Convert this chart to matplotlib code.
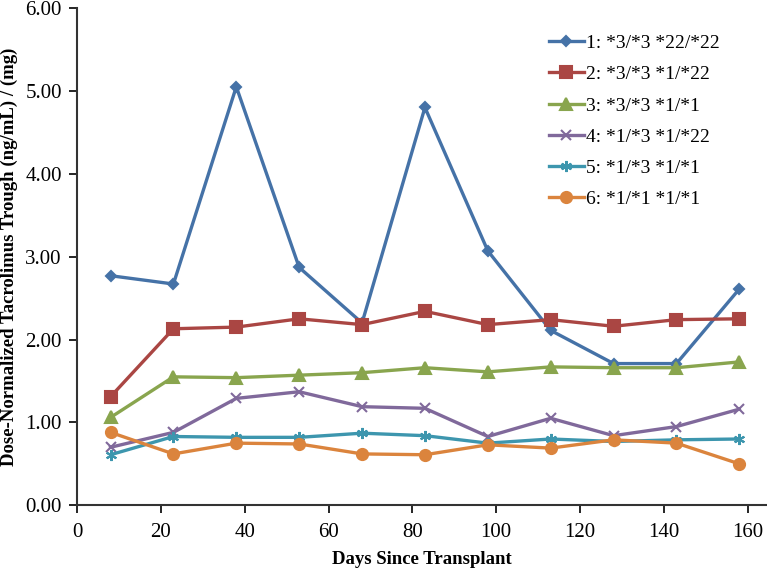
import matplotlib.pyplot as plt
from matplotlib.ticker import FormatStrFormatter

plt.rcParams['font.family'] = ['Liberation Serif', 'DejaVu Serif']

days = [8, 23, 38, 53, 68, 83, 98, 113, 128, 143, 158]
labels = ['1: *3/*3 *22/*22', '2: *3/*3 *1/*22', '3: *3/*3 *1/*1',
          '4: *1/*3 *1/*22', '5: *1/*3 *1/*1', '6: *1/*1 *1/*1']

g1 = [2.77, 2.67, 5.05, 2.87, 2.20, 4.80, 3.07, 2.11, 1.71, 1.71, 2.61]
g2 = [1.31, 2.13, 2.15, 2.25, 2.18, 2.34, 2.18, 2.24, 2.16, 2.24, 2.25]
g3 = [1.06, 1.55, 1.54, 1.57, 1.60, 1.66, 1.61, 1.67, 1.66, 1.66, 1.73]
g4 = [0.70, 0.88, 1.29, 1.37, 1.19, 1.17, 0.83, 1.05, 0.84, 0.95, 1.16]
g5 = [0.61, 0.83, 0.82, 0.82, 0.87, 0.84, 0.75, 0.80, 0.77, 0.79, 0.80]
g6 = [0.88, 0.62, 0.75, 0.74, 0.62, 0.61, 0.73, 0.69, 0.79, 0.75, 0.50]

colors = ['#4572A7', '#AA4643', '#89A54E', '#80699B', '#3D96AE', '#DB843D']
markers = ['D', 's', '^', 'x', (6, 2, 0), 'o']
msizes = [5, 8, 8, 7, 8, 8]

fig = plt.figure(figsize=(7.67, 5.68), dpi=100)
ax = fig.add_axes([77 / 767, 1 - 505.3 / 568, 1 - 77 / 767, 497.3 / 568])

for ys, lab, c, m, ms in zip([g1, g2, g3, g4, g5, g6], labels, colors, markers, msizes):
    ax.plot(days, ys, color=c, marker=m, markersize=ms, linewidth=2.4,
            markeredgewidth=1.5, label=lab)

ax.set_xlim(0, 164.6)
ax.set_ylim(0, 6)
ax.set_xticks(range(0, 161, 20))
ax.set_yticks(range(0, 7))
ax.yaxis.set_major_formatter(FormatStrFormatter('%.2f'))
ax.tick_params(labelsize=15, direction='out', length=6, width=1.2)
ax.tick_params(axis='x', pad=7)
ax.tick_params(axis='y', pad=5)
ax.spines['top'].set_visible(False)
ax.spines['right'].set_visible(False)
for s in ['left', 'bottom']:
    ax.spines[s].set_linewidth(1.5)
    ax.spines[s].set_color('#333333')

ax.set_xlabel('Days Since Transplant', fontsize=13.5, fontweight='bold', labelpad=6)
ax.set_ylabel('Dose-Normalized Tacrolimus Trough (ng/mL) / (mg)', fontsize=13.5,
              fontweight='bold')
ax.yaxis.set_label_coords(-0.085, 0.5)

ax.legend(loc='upper left', bbox_to_anchor=(0.658, 0.982), frameon=False, fontsize=14,
          handlelength=1.8, handletextpad=0.15, labelspacing=0.7)

fig.savefig('out.png', dpi=100)
